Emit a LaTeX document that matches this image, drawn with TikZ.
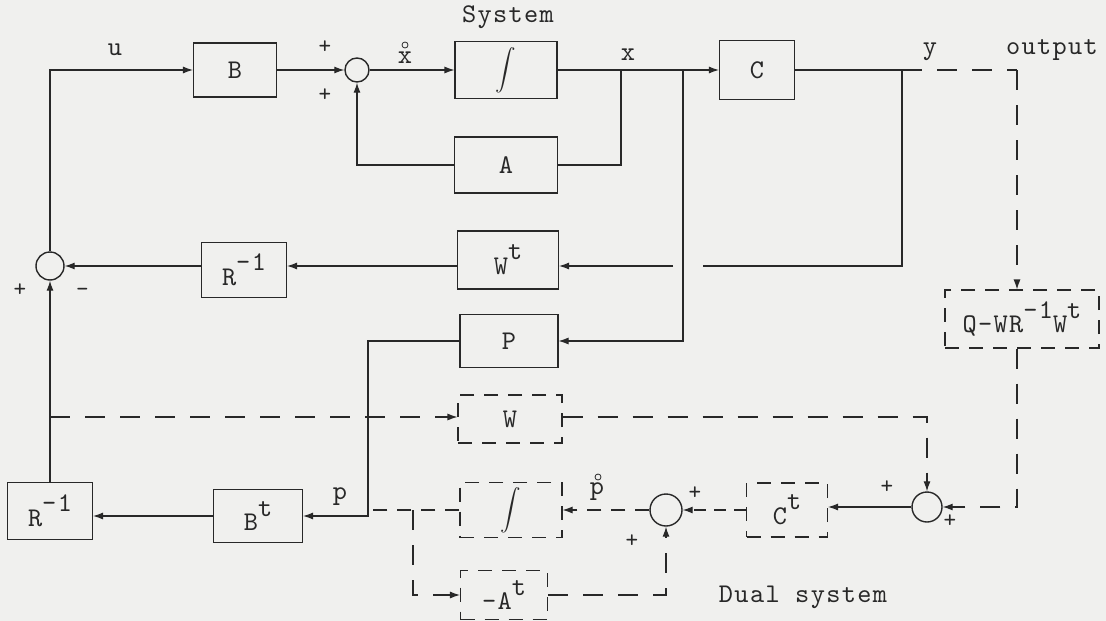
\documentclass[tikz,border=0pt]{standalone}
\usepackage{fontspec}
\usepackage{graphicx}
\usetikzlibrary{arrows.meta}
\newfontfamily\twf{lmmono10-regular.otf}[LetterSpace=5]
\definecolor{paper}{RGB}{240,240,238}
\definecolor{ink}{RGB}{40,40,40}
\newcommand\upr[1]{\raisebox{0.55em}{#1}}
\newcommand\twfont[1]{\fontsize{#1}{#1}\twf\selectfont}
\begin{document}
\begin{tikzpicture}[x=1pt,y=-1pt,
  ln/.style={line width=1.1pt, draw=ink},
  arr/.style={ln, -{Latex[length=10pt,width=7pt]}},
  dsh/.style={dash pattern=on 20pt off 15pt},
  blk/.style={draw=ink, line width=1.1pt, inner sep=0pt, font=\twfont{27}, text=ink},
  dblk/.style={blk, dash pattern=on 14pt off 10pt},
  sumc/.style={circle, draw=ink, line width=1.4pt, inner sep=0pt, minimum size=#1},
  sumc/.default=28pt,
  lbl/.style={font=\twfont{27}, inner sep=1pt, text=ink},
  pl/.style={font=\twfont{24}, inner sep=0pt, text=ink}
]
\fill[paper] (0,0) rectangle (1106,621);
\useasboundingbox (0,0) rectangle (1106,621);

% ---- system blocks
\node[blk, minimum width=83pt, minimum height=54pt] (B) at (235,70) {B};
\node[sumc=24pt] (S1) at (357,70) {};
\node[blk, minimum width=102pt, minimum height=57pt] (I1) at (506,70) {\scalebox{2.05}{$\displaystyle\int$}};
\node[blk, minimum width=103pt, minimum height=56pt] (A) at (506,165) {A};
\node[blk, minimum width=75pt, minimum height=59pt] (C) at (757,70) {C};
\node[blk, minimum width=101pt, minimum height=58pt] (Wt) at (508,260) {W\upr{t}};
\node[blk, minimum width=85pt, minimum height=55pt] (R1) at (244,270) {R\upr{-1}};
\node[sumc=28pt] (S2) at (50,266) {};
\node[blk, minimum width=98pt, minimum height=53pt] (P) at (509,341) {P};
\node[dblk, minimum width=154pt, minimum height=58pt] (Q) at (1022,319) {Q-WR\upr{-1}W\upr{t}};
\node[dblk, minimum width=104pt, minimum height=48pt] (W) at (510,419) {W};
% ---- dual system blocks
\node[dblk, minimum width=102pt, minimum height=55pt] (I2) at (511,510) {\scalebox{2.05}{$\displaystyle\int$}};
\node[dblk, minimum width=81pt, minimum height=54pt] (Ct) at (787,510) {C\upr{t}};
\node[sumc=32pt] (S3) at (666,510) {};
\node[sumc=30pt] (S4) at (927,507) {};
\node[dblk, minimum width=87pt, minimum height=49pt] (At) at (504,595) {-A\upr{t}};
\node[blk, minimum width=89pt, minimum height=53pt] (Bt) at (258,516) {B\upr{t}};
\node[blk, minimum width=85pt, minimum height=57pt] (R2) at (50,511) {R\upr{-1}};

% ---- coordinates
\coordinate (jx) at (621,70);
\coordinate (jp) at (683,70);
\coordinate (jy) at (902,70);
\coordinate (qx) at (1017,70);
\coordinate (gapR) at (703,266);
\coordinate (gapL) at (673,266);
\coordinate (jpv) at (368,516);
\coordinate (ja) at (413,510);
\coordinate (ju) at (50,417);

% ---- system connectors
\draw[arr] (S2.north) |- (B.west);
\draw[arr] (B.east) -- (S1.west);
\draw[arr] (S1.east) -- (I1.west);
\draw[ln] (I1.east) -- (jx);
\draw[arr] (jx) -- (C.west);
\draw[ln] (jx) |- (A.east);
\draw[arr] (A.west) -| (S1.south);
\draw[arr] (jp) |- (P.east);
\draw[ln] (C.east) -- (jy) |- (gapR);
\draw[arr] (gapL) -- (Wt.east |- gapL);
\draw[arr] (Wt.west |- gapL) -- (R1.east |- S2);
\draw[arr] (R1.west |- S2) -- (S2.east);
\draw[arr] (R2.north) -- (S2.south);
\draw[ln,dsh] (jy) -- (qx);
\draw[arr,dsh] (qx) -- (qx |- Q.north);
\draw[arr,dsh] (qx |- Q.south) |- (S4.east);
\draw[arr] (S4.west) -- (Ct.east |- S4.west);
\draw[arr,dash pattern=on 12pt off 8pt] (Ct.west) -- (S3.east);
\draw[arr,dash pattern=on 14pt off 10pt] (S3.west) -- (I2.east);
\draw[ln,dash pattern=on 14pt off 10pt] (I2.west) -- (jpv |- I2.west);
\draw[arr,dsh] (ja) |- (At.west);
\draw[arr,dsh] (At.east) -| (S3.south);
\draw[arr] (P.west) -| (jpv) -- (Bt.east);
\draw[arr] (Bt.west) -- (R2.east |- Bt.west);
\draw[arr,dsh] (ju) -- (W.west |- ju);
\draw[arr,dsh] (W.east |- ju) -| (S4.north);

% ---- labels
\node[lbl] (lu) at (115,50) {u};
\node[pl] (p1) at (325,47) {+};
\node[pl] (p2) at (325,95) {+};
\node[lbl] (xd) at (405,58) {x};
\draw[ink, line width=0.8pt] (405,45) circle[radius=3pt];
\node[lbl] (sys) at (508,17) {System};
\node[lbl] (lx) at (628,55) {x};
\node[lbl] (ly) at (930,52) {y};
\node[lbl] (lout) at (1052,50) {output};
\node[pl] (p3) at (20,290) {+};
\node[pl] (m1) at (83,292) {\textbf{-}};
\node[lbl] (lp) at (340,497) {p};
\node[lbl] (pd) at (597,492) {p};
\draw[ink, line width=0.8pt] (598,477) circle[radius=3pt];
\node[pl] (p4) at (695,493) {+};
\node[pl] (p5) at (632,541) {+};
\node[pl] (p6) at (887,487) {+};
\node[pl] (p7) at (950,521) {+};
\node[lbl] (dual) at (803,597) {Dual system};
\end{tikzpicture}
\end{document}
